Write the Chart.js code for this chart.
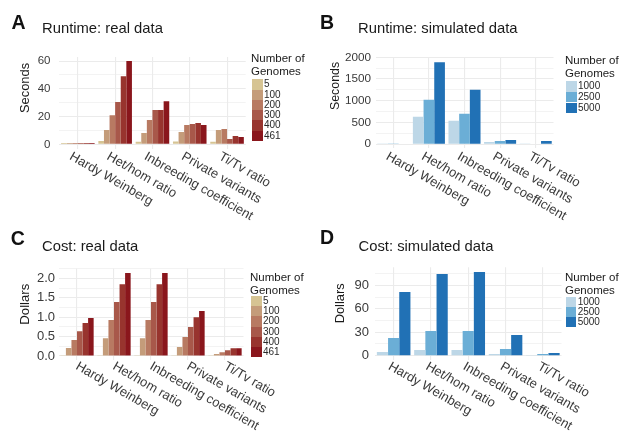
<!DOCTYPE html>
<html>
<head>
<meta charset="utf-8">
<script src="https://cdn.jsdelivr.net/npm/chart.js@4.4.1/dist/chart.umd.min.js"></script>
<style>
  html, body { margin: 0; padding: 0; background: #fff; }
  body { width: 619px; height: 431px; position: relative; overflow: hidden; font-family: "Liberation Sans", Arial, sans-serif; }
  canvas { position: absolute; }
  .letter { position: absolute; font-weight: bold; font-size: 19.5px; line-height: 19.5px; color: #111; }
  .title { position: absolute; color: #1a1a1a; white-space: nowrap; font-size: 14.8px; line-height: 14.8px; }
  .leg-title { position: absolute; font-size: 11.5px; line-height: 12.6px; color: #1a1a1a; white-space: nowrap; }
  .swatch { position: absolute; }
  .swatch-label { position: absolute; font-size: 10px; line-height: 10px; color: #2a2a2a; }
</style>
</head>
<body>
<canvas id="panel-c" width="310" height="216" style="left:0;top:215px"></canvas>
<canvas id="panel-d" width="309" height="216" style="left:310px;top:215px"></canvas>
<canvas id="panel-a" width="310" height="232" style="left:0;top:0"></canvas>
<canvas id="panel-b" width="309" height="232" style="left:310px;top:0"></canvas>

<div class="letter" style="left:11.5px;top:12.5px">A</div>
<div class="letter" style="left:320px;top:12.5px">B</div>
<div class="letter" style="left:10.7px;top:228.5px">C</div>
<div class="letter" style="left:320px;top:228px">D</div>

<div class="title" style="left:42px;top:21.4px">Runtime: real data</div>
<div class="title" style="left:358px;top:21.4px">Runtime: simulated data</div>
<div class="title" style="left:42px;top:239px">Cost: real data</div>
<div class="title" style="left:358.5px;top:239px">Cost: simulated data</div>

<script>
/* global Chart */
'use strict';

var categories = [ 'Hardy Weinberg', 'Het/hom ratio', 'Inbreeding coefficient', 'Private variants', 'Ti/Tv ratio' ];

var realGenomes = [ '5', '100', '200', '300', '400', '461' ];
var realColors  = [ '#d6c493', '#c49c7a', '#b87a62', '#a8584a', '#98342e', '#8a161c' ];

var simGenomes = [ '1000', '2500', '5000' ];
var simColors  = [ '#bdd7e7', '#6baed6', '#2171b5' ];

// Seconds, real data: one row per genome count, columns follow categories.
var runtimeReal = [
	[ 1.0,  2.4,  1.8,  2.0,  1.8 ],
	[ 1.0, 10.3,  8.2,  8.9, 10.3 ],
	[ 1.0, 21.0, 17.5, 13.9, 11.0 ],
	[ 1.0, 30.5, 24.7, 14.6,  3.8 ],
	[ 1.0, 49.0, 24.7, 15.3,  6.0 ],
	[ 1.0, 60.0, 31.0, 13.9,  5.3 ]
];

// Seconds, simulated data.
var runtimeSim = [
	[  5,  630,  538, 53,  8 ],
	[  8, 1023,  700, 76, 10 ],
	[ 12, 1885, 1254, 99, 76 ]
];

// Dollars, real data.
var costReal = [
	[ 0.02, 0.02, 0.02, 0.02, 0.02 ],
	[ 0.21, 0.46, 0.46, 0.23, 0.05 ],
	[ 0.41, 0.93, 0.93, 0.49, 0.10 ],
	[ 0.64, 1.39, 1.39, 0.75, 0.15 ],
	[ 0.85, 1.85, 1.85, 1.00, 0.20 ],
	[ 0.98, 2.14, 2.14, 1.16, 0.20 ]
];

// Dollars, simulated data.
var costSim = [
	[  4.7,   7.3,   7.3,  2.1, 0.9 ],
	[ 22.6,  31.5,  31.5,  8.5, 2.0 ],
	[ 81.5, 104.5, 107.0, 26.5, 3.4 ]
];

var FONT = '"Liberation Sans", Arial, sans-serif';
var GRID = '#ebebeb';

// Rotated category labels and the y title, placed from the x scale.
var axisText = {
	id: 'axisText',
	afterDraw: function ( chart ) {
		var o    = chart.options.plugins.axisText;
		var ctx  = chart.ctx;
		var xs   = chart.scales.x;
		var area = chart.chartArea;

		ctx.save();
		ctx.fillStyle = '#3a3a3a';
		ctx.font = o.xFont + 'px ' + FONT;
		ctx.textAlign = 'left';
		ctx.textBaseline = 'top';
		categories.forEach( function ( c, i ) {
			ctx.save();
			ctx.translate( xs.getPixelForValue( i ) + o.dx, area.bottom + o.dy );
			ctx.rotate( Math.PI / 6 );
			ctx.fillText( c, 0, 0 );
			ctx.restore();
		} );

		ctx.fillStyle = '#1a1a1a';
		ctx.font = o.yFont + 'px ' + FONT;
		ctx.textAlign = 'center';
		ctx.textBaseline = 'alphabetic';
		ctx.translate( o.yTitleX, o.yTitleY );
		ctx.rotate( -Math.PI / 2 );
		ctx.fillText( o.yTitle, 0, 0 );
		ctx.restore();
	}
};

function isMajor( v, major ) {
	var r = v / major;
	return Math.abs( r - Math.round( r ) ) < 1e-6;
}

function makePanel( p ) {
	var canvas = document.getElementById( p.id );
	var datasets = p.rows.map( function ( row, i ) {
		return {
			label: p.genomes[ i ],
			data: row,
			backgroundColor: p.colors[ i ],
			borderWidth: 0,
			categoryPercentage: 0.9,
			barPercentage: 1.0
		};
	} );

	new Chart( canvas.getContext( '2d' ), {
		type: 'bar',
		data: { labels: categories, datasets: datasets },
		plugins: [ axisText ],
		options: {
			responsive: false,
			animation: false,
			devicePixelRatio: 1,
			layout: {
				padding: {
					left: 0,
					top: p.area[ 2 ],
					right: canvas.width - p.area[ 1 ],
					bottom: canvas.height - p.area[ 3 ]
				}
			},
			scales: {
				x: {
					type: 'category',
					ticks: { display: false },
					grid: { offset: false, color: GRID, lineWidth: 1.1, drawTicks: false },
					border: { display: false },
					afterFit: function ( s ) { s.height = 0; }
				},
				y: {
					min: p.yMin,
					max: p.yMax,
					ticks: {
						stepSize: p.minor,
						includeBounds: false,
						autoSkip: false,
						padding: p.tickPad,
						color: '#3a3a3a',
						font: { family: FONT, size: p.tickFont },
						callback: function ( v ) {
							return isMajor( v, p.major ) ? v.toFixed( p.digits ) : '';
						}
					},
					grid: {
						color: GRID,
						drawTicks: false,
						lineWidth: function ( c ) {
							return c.tick && isMajor( c.tick.value, p.major ) ? 1.1 : 0.6;
						}
					},
					border: { display: false },
					afterFit: function ( s ) { s.width = p.area[ 0 ]; }
				}
			},
			plugins: {
				legend: { display: false },
				tooltip: { enabled: false },
				axisText: {
					xFont: p.xFont, dx: p.dx, dy: p.dy,
					yTitle: p.yTitle, yFont: p.yFont, yTitleX: p.yTitleX, yTitleY: p.yTitleY
				}
			}
		}
	} );
}

// Legend keys, stacked like ggplot's.
function makeLegend( genomes, colors, left, titleTop, keysTop, keyW, keyH ) {
	var t = document.createElement( 'div' );
	t.className = 'leg-title';
	t.style.left = left + 'px';
	t.style.top = titleTop + 'px';
	t.innerHTML = 'Number of<br>Genomes';
	document.body.appendChild( t );

	genomes.forEach( function ( g, i ) {
		var sw = document.createElement( 'div' );
		sw.className = 'swatch';
		sw.style.left = ( left + 1 ) + 'px';
		sw.style.top = ( keysTop + i * keyH ) + 'px';
		sw.style.width = keyW + 'px';
		sw.style.height = keyH + 'px';
		sw.style.background = colors[ i ];
		document.body.appendChild( sw );

		var lb = document.createElement( 'div' );
		lb.className = 'swatch-label';
		lb.style.left = ( left + 1 + keyW + 1.5 ) + 'px';
		lb.style.top = ( keysTop + i * keyH + keyH / 2 - 5 ) + 'px';
		lb.textContent = g;
		document.body.appendChild( lb );
	} );
}

makePanel( {
	id: 'panel-a', rows: runtimeReal, genomes: realGenomes, colors: realColors,
	area: [ 59.2, 245.7, 56.9, 148.5 ],
	yMin: -3, yMax: 63, minor: 10, major: 20, digits: 0, tickFont: 11.5, tickPad: 8.7,
	xFont: 13, dx: -4, dy: 1.5,
	yTitle: 'Seconds', yFont: 12.9, yTitleX: 29.3, yTitleY: 88
} );

makePanel( {
	id: 'panel-b', rows: runtimeSim, genomes: simGenomes, colors: simColors,
	area: [ 65.5, 243.5, 57.3, 148.4 ],
	yMin: -95, yMax: 2000, minor: 250, major: 500, digits: 0, tickFont: 11.7, tickPad: 4.5,
	xFont: 13, dx: -3, dy: 1.5,
	yTitle: 'Seconds', yFont: 12.4, yTitleX: 29.3, yTitleY: 86
} );

makePanel( {
	id: 'panel-c', rows: costReal, genomes: realGenomes, colors: realColors,
	area: [ 58.5, 243.5, 53.7, 145.3 ],
	yMin: -0.11, yMax: 2.25, minor: 0.25, major: 0.5, digits: 1, tickFont: 13, tickPad: 3.5,
	xFont: 13, dx: 3, dy: -0.5,
	yTitle: 'Dollars', yFont: 13.2, yTitleX: 29.3, yTitleY: 89.2
} );

makePanel( {
	id: 'panel-d', rows: costSim, genomes: simGenomes, colors: simColors,
	area: [ 65, 251.5, 52.3, 144.9 ],
	yMin: -5.4, yMax: 113, minor: 15, major: 30, digits: 0, tickFont: 13, tickPad: 6,
	xFont: 13, dx: -1, dy: 0,
	yTitle: 'Dollars', yFont: 12.9, yTitleX: 34, yTitleY: 88.3
} );

makeLegend( realGenomes, realColors, 251, 52, 79.3, 10.5, 10.25 );
makeLegend( simGenomes, simColors, 565, 54, 80.7, 10.5, 10.9 );
makeLegend( realGenomes, realColors, 250, 271.3, 295.7, 10.5, 10.27 );
makeLegend( simGenomes, simColors, 565, 271.3, 296.7, 10.2, 10.2 );
</script>
</body>
</html>
